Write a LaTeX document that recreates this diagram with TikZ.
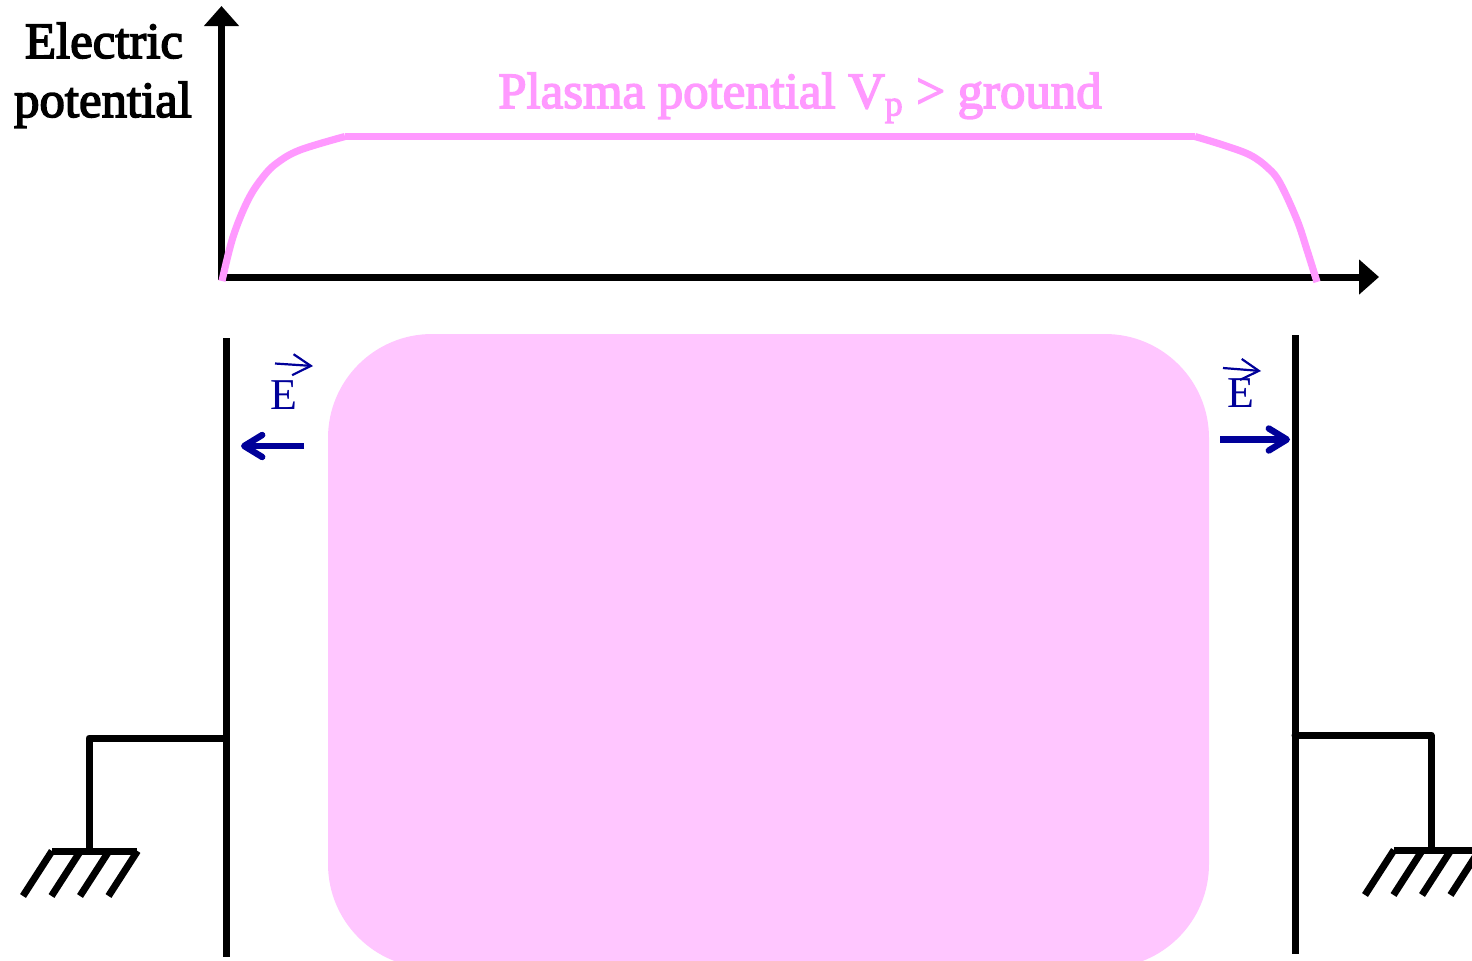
\documentclass[tikz,border=0pt]{standalone}
\usepackage{fontspec}
\setmainfont{Liberation Serif}
\newfontfamily\labelfont[FakeBold=3]{Liberation Serif}
\usetikzlibrary{arrows.meta}
\definecolor{plasmafill}{HTML}{FFC6FF}
\definecolor{plasmaline}{HTML}{FF99FF}
\definecolor{fieldblue}{HTML}{000099}
\tikzset{
    wire/.style={line width=3.5pt},
    axisline/.style={line width=3.5pt, -{Triangle[length=10pt,width=17pt]}},
    potline/.style={plasmaline, line width=3.6pt},
    fieldarrow/.style={fieldblue, line width=3.2pt, -{Straight Barb[length=9pt,width=11pt,round]}},
    vecarrow/.style={fieldblue, line width=1.1pt, -{Straight Barb[length=9pt,width=10.5pt]}},
    fieldlabel/.style={fieldblue, font=\fontsize{22}{22}\selectfont, anchor=base, inner sep=0pt},
    axislabel/.style={font=\labelfont\fontsize{25.4}{25.4}\selectfont, anchor=base, inner sep=0pt}
}
\begin{document}
\begin{tikzpicture}[x=0.5pt, y=-0.5pt]
    \useasboundingbox (0,0) rectangle (1472,960);
    \clip (0,0) rectangle (1472,960);

    % plasma
    \fill[plasmafill, rounded corners=52pt] (328,334) rectangle (1209,968);

    % axes
    \coordinate (origin) at (221.5,277);
    \coordinate (ytip) at (221.5,6);
    \coordinate (xtip) at (1379,277);
    \draw[axisline] (221.5,280) -- (ytip);
    \draw[axisline] (origin) -- (xtip);

    % potential curve
    \draw[potline] plot[smooth, tension=0.6] coordinates
        {(222,281) (233,237) (248,200) (263,177) (277,163) (300,150) (345,136.5)};
    \draw[potline] (345,136.5) -- (1195,136.5);
    \draw[potline] plot[smooth, tension=0.6] coordinates
        {(1195,136.5) (1223,145) (1250,155) (1268,168) (1280,183) (1297,220) (1307,250) (1317,282)};

    % labels
    \node[axislabel] (electric) at (104,58) {Electric};
    \node[axislabel] (potential) at (103,117) {potential};
    \node[axislabel, plasmaline] (vplasma) at (800,108) {Plasma potential V\textsubscript{p} > ground};

    % walls
    \coordinate (wallLtop) at (226,338);
    \coordinate (wallLbot) at (226,957);
    \coordinate (wallRtop) at (1295,335);
    \coordinate (wallRbot) at (1295,954);
    \draw[wire] (wallLtop) -- (wallLbot);
    \draw[wire] (wallRtop) -- (wallRbot);

    % ground left
    \coordinate (tapL) at (226,738);
    \coordinate (gndL) at (89,851);
    \draw[wire, line cap=round, line join=round] (tapL) -| (gndL);
    \draw[wire] (52,851) -- (137,851);
    \foreach \x in {52,80.5,109,137.5} \draw[wire] (\x,851) -- ++(-29,45);

    % ground right
    \coordinate (tapR) at (1295,735);
    \coordinate (gndR) at (1431,850);
    \draw[wire, line cap=round, line join=round] (tapR) -| (gndR);
    \draw[wire] (1394,850) -- (1480,850);
    \foreach \x in {1394,1422.5,1451,1479.5} \draw[wire] (\x,850) -- ++(-29,45);

    % field left
    \coordinate (fieldLa) at (304,446);
    \coordinate (fieldLb) at (241,446);
    \draw[fieldarrow] (fieldLa) -- (fieldLb);
    \node[fieldlabel] (eL) at (284,409) {E};
    \coordinate (vecLa) at (275,363.5);
    \coordinate (vecLb) at (313,366);
    \draw[vecarrow] (vecLa) -- (vecLb);

    % field right
    \coordinate (fieldRa) at (1220,439.5);
    \coordinate (fieldRb) at (1290,439.5);
    \draw[fieldarrow] (fieldRa) -- (fieldRb);
    \node[fieldlabel] (eR) at (1241,407) {E};
    \coordinate (vecRa) at (1223,368);
    \coordinate (vecRb) at (1261,371);
    \draw[vecarrow] (vecRa) -- (vecRb);
\end{tikzpicture}
\end{document}
